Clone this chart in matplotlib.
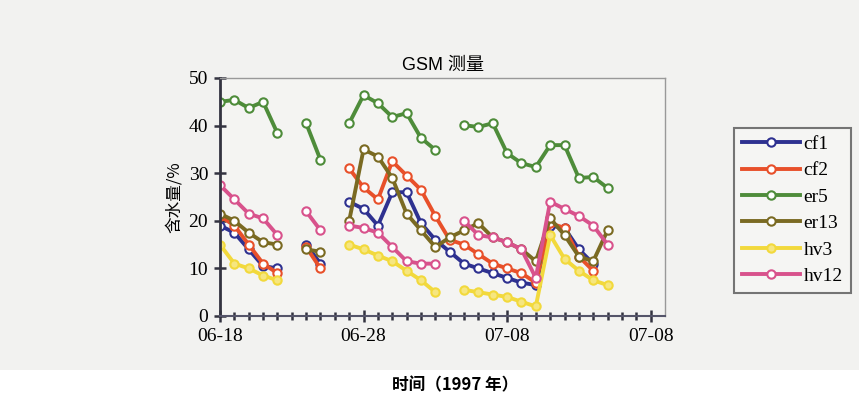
import numpy as np
import matplotlib.pyplot as plt
from matplotlib.patches import Rectangle

plt.rcParams['font.family'] = ['Liberation Serif', 'Noto Sans CJK SC', 'DejaVu Sans']

nan = np.nan
days = list(range(28))

cf1 = [19, 17.5, 14, 10.5, 10, nan, 15, 11, nan,
       24, 22.5, 19, 26, 26, 19.5, 16, 13.5, 11, 10, 9, 8, 7, 6.5,
       19, 18.5, 14, 11, nan]
cf2 = [21, 19, 15, 11, 9, nan, 14.5, 10, nan,
       31, 27, 24.5, 32.5, 29.5, 26.5, 21, 16, 15, 13, 11, 10, 9, 7,
       19.5, 18.5, 12.5, 9.5, nan]
er5 = [45, 45.4, 43.7, 45, 38.4, nan, 40.5, 32.8, nan,
       40.5, 46.4, 44.7, 41.8, 42.6, 37.4, 34.9, nan, 40.1, 39.7, 40.5,
       34.2, 32.1, 31.3, 35.9, 35.9, 29, 29.2, 26.9]
er13 = [21.5, 20, 17.5, 15.5, 15, nan, 14, 13.5, nan,
        20, 35, 33.5, 29, 21.5, 18, 14.5, 16.5, 18, 19.5, 16.5, 15.5, 14, 11.5,
        20.5, 17, 12.5, 11.5, 18]
hv3 = [15, 11, 10, 8.5, 7.5, nan, nan, nan, nan,
       15, 14, 12.7, 11.5, 9.5, 7.5, 5, nan, 5.5, 5, 4.5, 4, 3, 2,
       17, 12, 9.5, 7.5, 6.5]
hv12 = [27.5, 24.5, 21.5, 20.5, 17, nan, 22, 18, nan,
        19, 18.5, 17.5, 14.5, 11.5, 11, 11, nan, 20, 17, 16.5, 15.5, 14, 8,
        24, 22.5, 21, 19, 15]

names = ['cf1', 'cf2', 'er5', 'er13', 'hv3', 'hv12']
series = [cf1, cf2, er5, er13, hv3, hv12]
colors = ['#2e3190', '#e8502a', '#4e8c3a', '#7a6a22', '#f2d93c', '#d8528c']

tick_pos = [0, 10, 20, 30]
tick_labels = ['06-18', '06-28', '07-08', '07-08']

fig = plt.figure(figsize=(8.59, 4.01), dpi=100, facecolor='#f2f2f0')
fig.patches.append(Rectangle((0, 0), 1, 0.077, transform=fig.transFigure,
                             facecolor='white', edgecolor='none', zorder=0))
ax = fig.add_axes([220 / 859, 1 - 316 / 401, 445 / 859, 238 / 401])
ax.set_facecolor('#f4f4f2')

for name, vals, c in zip(names, series, colors):
    face = '#f6e680' if name == 'hv3' else 'white'
    ax.plot(days, vals, color=c, lw=2.8, marker='o', ms=6,
            mfc=face, mec=c, mew=1.5, label=name)

ax.set_xlim(0, 31)
ax.set_ylim(0, 50)
ax.set_xticks(tick_pos)
ax.set_xticklabels(tick_labels)
ax.set_xticks(np.arange(0, 31, 1), minor=True)
ax.set_yticks(range(0, 51, 10))
ax.tick_params(axis='both', which='major', direction='inout', length=9,
               width=1.8, color='#333340', labelsize=14, pad=4)
ax.tick_params(axis='x', which='minor', direction='inout', length=6,
               width=1.8, color='#333340')
for s in ['top', 'right']:
    ax.spines[s].set_color('#999999')
    ax.spines[s].set_linewidth(1)
ax.spines['left'].set_color('#333340')
ax.spines['left'].set_linewidth(2)
ax.spines['bottom'].set_color('#55556a')
ax.spines['bottom'].set_linewidth(1.5)

ax.set_title('GSM 测量', fontsize=13, family=['Liberation Sans', 'Noto Sans CJK SC'], pad=6)
ax.set_ylabel('含水量/%', fontsize=12, family=['Noto Sans CJK SC'], labelpad=4)
fig.text(455 / 859, 1 - 385 / 401, '时间（1997 年）', fontsize=12, fontweight='bold',
         family=['Noto Sans CJK SC'], ha='center', va='center')

leg = fig.legend(loc='upper left', bbox_to_anchor=(724 / 859, 1 - 118 / 401),
                 fontsize=14, handlelength=3, handletextpad=0.2, labelspacing=0.45,
                 frameon=True, fancybox=False, edgecolor='#555555',
                 facecolor='#f7f7f5', borderpad=0.4)
leg.get_frame().set_linewidth(1.5)

fig.savefig('out.png', dpi=100, facecolor=fig.get_facecolor())
